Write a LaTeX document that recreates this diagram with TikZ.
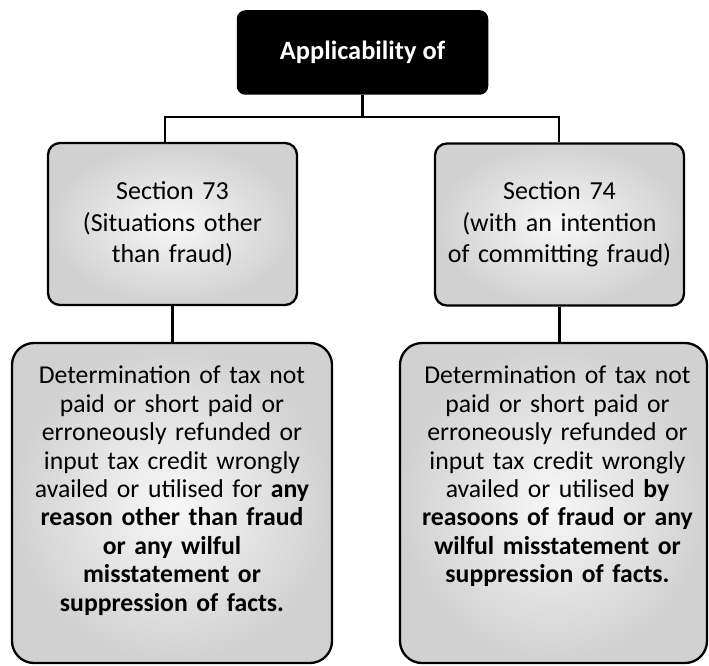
\documentclass[tikz,border=0pt]{standalone}
\usepackage{fontspec}
\setmainfont{Carlito}
\begin{document}
\begin{tikzpicture}[x=1pt,y=-1pt,
  topbox/.style={draw=black, fill=black, rounded corners=8pt, line width=1.5pt,
    minimum width=250pt, minimum height=83pt, inner sep=0pt, text=white,
    font=\bfseries\fontsize{26.4}{31}\selectfont},
  midbox/.style={draw=black, line width=2.3pt, rounded corners=12pt,
    inner color=black!3, outer color=black!18,
    minimum width=249pt, minimum height=162pt, text width=245pt, align=center,
    inner sep=0pt, font=\fontsize{26}{31.6}\selectfont},
  lowbox/.style={draw=black, line width=2.3pt, rounded corners=22pt,
    inner color=black!3, outer color=black!18, inner sep=0pt},
  lowtext/.style={text width=306pt, align=center, inner sep=0pt, anchor=north,
    font=\fontsize{25.7}{28.4}\selectfont},
  link/.style={line width=2.4pt}]
\useasboundingbox (0,0) rectangle (709,666);
\clip (0,0) rectangle (709,666);
\fill[white] (0,0) rectangle (709,666);

\node[topbox] (top) at (362.5,52.5) {Applicability of};

\node[midbox] (s73) at (172.5,224) {Section 73\\(Situations other\\than fraud)};
\node[midbox] (s74) at (559.5,224.5) {Section 74\\(with an intention\\of committing fraud)};

\node[lowbox, minimum width=320pt, minimum height=320pt] (d73) at (172,503) {};
\node[lowbox, minimum width=307pt, minimum height=320pt] (d74) at (553.5,503) {};

\node[lowtext] (t73) at (172,366) {Determination of tax not\\paid or short paid or\\erroneously refunded or\\input tax credit wrongly\\availed or utilised for \textbf{any}\\\textbf{reason other than fraud}\\\textbf{or any wilful}\\\textbf{misstatement or}\\\textbf{suppression of facts.}};
\node[lowtext] (t74) at (557.5,366) {Determination of tax not\\paid or short paid or\\erroneously refunded or\\input tax credit wrongly\\availed or utilised \textbf{by}\\\textbf{reasoons of fraud or any}\\\textbf{wilful misstatement or}\\\textbf{suppression of facts.}};

\coordinate (j) at (362.5,117);
\coordinate (jl) at (165,117);
\coordinate (jr) at (559,117);
\draw[link] (top.south) -- (j);
\draw[link] (jl |- s73.north) -- (jl) -- (jr) -- (jr |- s74.north);
\draw[link] (s73.south) -- (s73.south |- d73.north);
\draw[link] (s74.south) -- (s74.south |- d74.north);
\end{tikzpicture}
\end{document}
